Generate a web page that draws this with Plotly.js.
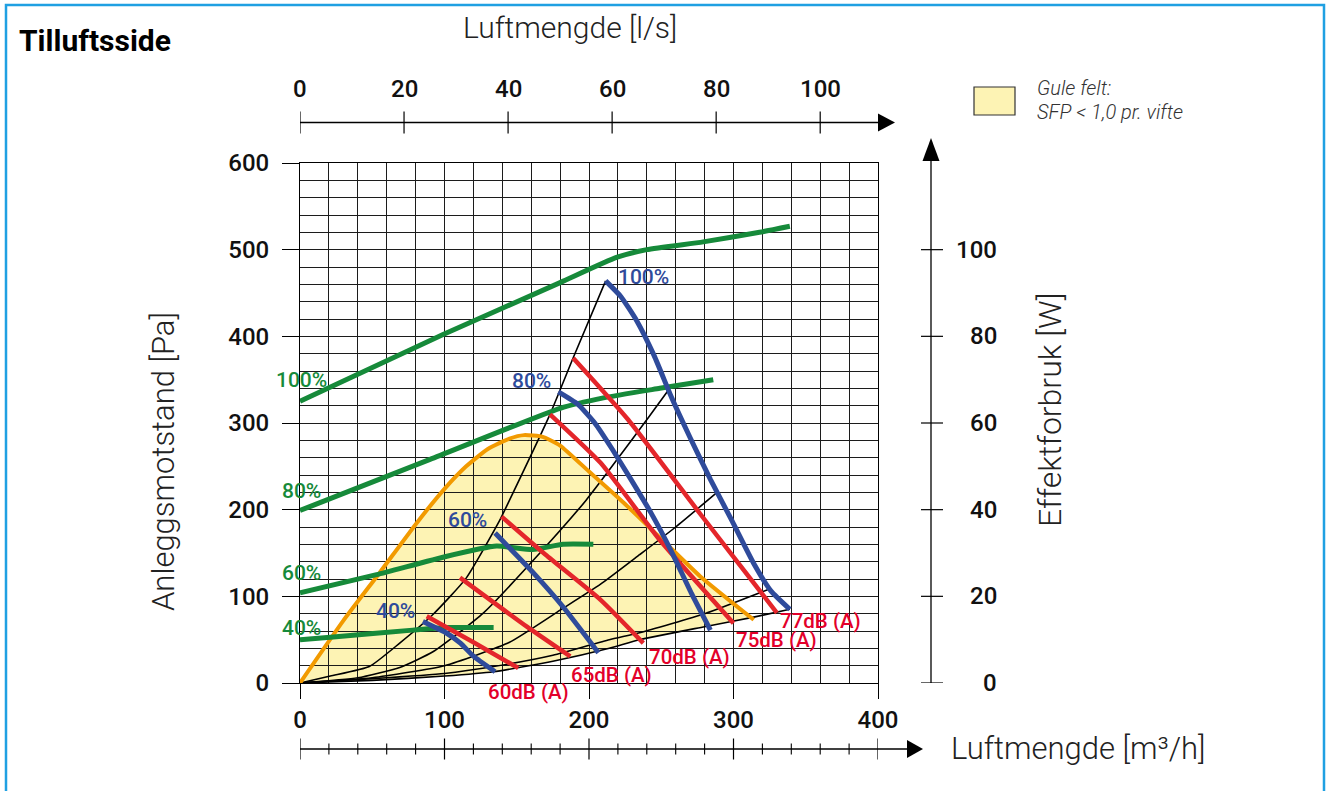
<!DOCTYPE html>
<html><head><meta charset="utf-8">
<script src="https://cdn.plot.ly/plotly-3.0.1.min.js"></script>
<style>html,body{margin:0;padding:0;background:#fff;}#chart{width:1330px;height:791px;}</style>
</head><body><div id="chart"></div>
<script>
// ---------- data (x: Luftmengde m3/h, y: Anleggsmotstand Pa) ----------
const xTicks = [0, 100, 200, 300, 400];
const yTicks = [0, 100, 200, 300, 400, 500, 600];
const bottomMinorTicks = [20, 40, 60, 80, 120, 140, 160, 180, 220, 240, 260, 280, 320, 340, 360, 380];
const topTicksLs = [0, 20, 40, 60, 80, 100];          // l/s
const rightTicksW = [0, 20, 40, 60, 80, 100];         // W

// power consumption curves (green), read in Pa-scale
const g100X = [0, 99, 180, 219, 240, 279, 318, 339];
const g100Y = [325, 402, 462, 491, 500, 509, 520, 527];
const g80X = [0, 90, 180, 210, 249, 286];
const g80Y = [199, 258, 317, 329, 340, 350];
const g60X = [0, 53, 101, 136, 161, 182, 203];
const g60Y = [104, 125, 146, 158, 154, 160, 160];
const g40X = [0, 23, 78, 101, 134];
const g40Y = [50, 53, 61, 64, 64];

// fan curves (blue)
const b100X = [211.5, 222, 233, 245, 257, 270, 284, 299, 314, 326, 339];
const b100Y = [464, 446, 418, 378, 330, 283, 235, 187, 138, 106, 85];
const b80X = [178.8, 192, 204, 216, 229, 243, 257, 271, 284];
const b80Y = [336, 322, 300, 270, 235, 196, 152, 103, 61];
const b60X = [135, 161.5, 182, 206.5];
const b60Y = [173, 127, 88, 35];
const b40X = [85, 101, 111, 120, 135];
const b40Y = [71, 58, 46, 31, 13];

// sound level lines (red)
const r77X = [189, 227, 277, 330];
const r77Y = [375, 304, 195, 81];
const r75X = [173, 208, 249, 300];
const r75Y = [310, 254, 165, 69];
const r70X = [139.5, 170, 208, 237.6];
const r70Y = [192, 148, 96, 46];
const r65X = [110.7, 157, 187];
const r65Y = [121.6, 65, 30.7];
const r60X = [87.7, 120, 151];
const r60Y = [77, 47, 17.3];

// system curves (black)
const k1X = [0, 21, 48, 69, 92, 115, 138, 145, 173, 189, 211.5];
const k1Y = [0, 8, 19, 46, 79, 121, 187, 211, 310, 375, 464];
const k2X = [0, 40, 69, 92, 127, 166, 198, 241, 255];
const k2Y = [0, 6, 18, 36, 81, 150, 211, 306, 338];
const k3X = [0, 50, 100, 145, 180, 208, 235, 260, 288];
const k3Y = [0, 6, 20, 47, 84, 114, 148, 180, 219];
const k4X = [0, 50, 100, 134, 175, 214, 235, 280, 324];
const k4Y = [0, 5, 11, 19, 32, 50, 58, 80, 108];
const k5X = [0, 50, 100, 134, 175, 214, 235, 280, 314, 339];
const k5Y = [0, 3, 8, 13, 25, 40, 50, 65, 76, 85];

// SFP < 1,0 boundary (orange)
const sfpX = [0, 30, 55, 80, 100, 115, 130, 145, 155, 168, 180, 200, 224, 249, 277, 314];
const sfpY = [0, 72, 127, 183, 224, 250, 270, 282, 286, 284, 274, 244, 208, 168, 123, 73];

// labels
const greenLabels = ['100%', '80%', '60%', '40%'];
const greenLabelY = [350, 221, 127, 64];
const blueLabels = ['100%', '80%', '60%', '40%'];
const blueLabelX = [237.5, 160, 116, 66];
const blueLabelY = [468, 349, 188, 83];
const redLabels = ['77dB (A)', '75dB (A)', '70dB (A)', '65dB (A)', '60dB (A)'];
const redLabelX = [330.5, 300, 240, 186, 128.5];
const redLabelY = [71, 50, 30.5, 9.5, -10];

// ---------- styling / layout ----------
const GREEN = '#168a3a', BLUE = '#2f4b9b', RED = '#e4262b', ORANGE = '#f29a00', FILL = '#fdf3b4';
const RED_TXT = '#e3002a';
const FONT = 'Roboto, "Open Sans", sans-serif';
const L = 300, R = 878, T = 163, B = 683;
const X = px => (px - L) / (R - L);
const Y = py => (B - py) / (B - T);
const YMAX = 600;

function line(x, y, color, width, smooth) {
  return {x: x, y: y, type: 'scatter', mode: 'lines', hoverinfo: 'skip', showlegend: false,
    line: {color: color, width: width, shape: smooth ? 'spline' : 'linear', smoothing: 0.5}};
}
const traces = [
  line(k1X, k1Y, '#000', 1.6, true),
  line(k2X, k2Y, '#000', 1.6, true),
  line(k3X, k3Y, '#000', 1.6, true),
  line(k4X, k4Y, '#000', 1.6, true),
  line(k5X, k5Y, '#000', 1.6, true),
  line(sfpX, sfpY, ORANGE, 4, true),
  line(g100X, g100Y, GREEN, 5, true),
  line(g80X, g80Y, GREEN, 5, true),
  line(g60X, g60Y, GREEN, 5, true),
  line(g40X, g40Y, GREEN, 5, true),
  line(r77X, r77Y, RED, 4.5, true),
  line(r75X, r75Y, RED, 4.5, true),
  line(r70X, r70Y, RED, 4.5, true),
  line(r65X, r65Y, RED, 4.5, true),
  line(r60X, r60Y, RED, 4.5, true),
  line(b100X, b100Y, BLUE, 5, true),
  line(b80X, b80Y, BLUE, 5, true),
  line(b60X, b60Y, BLUE, 5, true),
  line(b40X, b40Y, BLUE, 5, true)
];

// yellow SFP area (below grid): orange boundary + lowest system curve back to origin
let fillPath = 'M ' + sfpX.map((v, i) => v + ',' + sfpY[i]).join(' L ');
for (let i = k5X.length - 1; i >= 0; i--) {
  if (k5X[i] <= sfpX[sfpX.length - 1]) fillPath += ' L ' + k5X[i] + ',' + k5Y[i];
}
fillPath += ' Z';

const shapes = [
  {type: 'path', xref: 'x', yref: 'y', path: fillPath, fillcolor: FILL, line: {width: 0}, layer: 'below'},
  // blue frame
  {type: 'rect', xref: 'paper', yref: 'paper', x0: X(6), x1: X(1324), y0: Y(830), y1: Y(5),
   line: {color: '#1fa0e2', width: 2.5}, fillcolor: 'rgba(0,0,0,0)', layer: 'above'},
  // legend swatch
  {type: 'rect', xref: 'paper', yref: 'paper', x0: X(974), x1: X(1015), y0: Y(115), y1: Y(87),
   line: {color: '#333', width: 1.2}, fillcolor: FILL},
  // top axis (l/s)
  {type: 'line', xref: 'paper', yref: 'paper', x0: 0, x1: 1, y0: Y(122.5), y1: Y(122.5), line: {color: '#000', width: 1.3}},
  {type: 'path', xref: 'paper', yref: 'paper', path: `M ${X(878)},${Y(113.5)} L ${X(895)},${Y(122.5)} L ${X(878)},${Y(131.5)} Z`, fillcolor: '#000', line: {width: 0}},
  // bottom axis (m3/h)
  {type: 'line', xref: 'paper', yref: 'paper', x0: 0, x1: X(908), y0: Y(749), y1: Y(749), line: {color: '#000', width: 1.3}},
  {type: 'path', xref: 'paper', yref: 'paper', path: `M ${X(907)},${Y(740)} L ${X(923)},${Y(749)} L ${X(907)},${Y(758)} Z`, fillcolor: '#000', line: {width: 0}},
  // right axis (W)
  {type: 'line', xref: 'paper', yref: 'paper', x0: X(931), x1: X(931), y0: Y(683), y1: Y(160), line: {color: '#000', width: 1.3}},
  {type: 'path', xref: 'paper', yref: 'paper', path: `M ${X(922.5)},${Y(161)} L ${X(931)},${Y(138)} L ${X(939.5)},${Y(161)} Z`, fillcolor: '#000', line: {width: 0}}
];
topTicksLs.forEach(v => shapes.push({type: 'line', xref: 'x', yref: 'paper', x0: v * 3.6, x1: v * 3.6,
  y0: Y(111.5), y1: Y(133.5), line: {color: '#000', width: 1.2}}));
xTicks.forEach(v => shapes.push({type: 'line', xref: 'x', yref: 'paper', x0: v, x1: v,
  y0: Y(738.5), y1: Y(759.5), line: {color: '#000', width: 1.2}}));
bottomMinorTicks.forEach(v => shapes.push({type: 'line', xref: 'x', yref: 'paper', x0: v, x1: v,
  y0: Y(743.5), y1: Y(754.5), line: {color: '#000', width: 1.1}}));
rightTicksW.forEach(v => shapes.push({type: 'line', xref: 'paper', yref: 'y', x0: X(921), x1: X(943),
  y0: v * 5, y1: v * 5, line: {color: '#000', width: 1.2}}));

const tickFont = {family: FONT, size: 24, color: '#111', weight: 500};
const titleFont = {family: FONT, size: 31, color: '#222', weight: 300};
const annotations = [];
topTicksLs.forEach(v => annotations.push({xref: 'x', yref: 'paper', x: v * 3.6, y: Y(89), text: String(v),
  showarrow: false, xanchor: 'center', yanchor: 'middle', font: tickFont}));
rightTicksW.forEach(v => annotations.push({xref: 'paper', yref: 'y', x: X(999), y: v * 5, text: String(v),
  showarrow: false, xanchor: 'right', yanchor: 'middle', font: tickFont}));
annotations.push({xref: 'paper', yref: 'paper', x: X(570), y: Y(27), text: 'Luftmengde [l/s]', showarrow: false,
  xanchor: 'center', yanchor: 'middle', font: Object.assign({}, titleFont, {size: 30})});
annotations.push({xref: 'paper', yref: 'paper', x: X(949), y: Y(748), text: 'Luftmengde [m³/h]', showarrow: false,
  xanchor: 'left', yanchor: 'middle', font: titleFont});
annotations.push({xref: 'paper', yref: 'paper', x: X(163), y: Y(462), text: 'Anleggsmotstand [Pa]', showarrow: false,
  textangle: -90, xanchor: 'center', yanchor: 'middle', font: titleFont});
annotations.push({xref: 'paper', yref: 'paper', x: X(1050), y: Y(410), text: 'Effektforbruk [W]', showarrow: false,
  textangle: -90, xanchor: 'center', yanchor: 'middle', font: Object.assign({}, titleFont, {size: 32})});
annotations.push({xref: 'paper', yref: 'paper', x: X(1035), y: Y(88), text: '<i>Gule felt:</i>', showarrow: false,
  xanchor: 'left', yanchor: 'middle', font: {family: FONT, size: 20, color: '#333', weight: 300}});
annotations.push({xref: 'paper', yref: 'paper', x: X(1035), y: Y(112), text: '<i>SFP &lt; 1,0 pr. vifte</i>', showarrow: false,
  xanchor: 'left', yanchor: 'middle', font: {family: FONT, size: 20, color: '#333', weight: 300}});
greenLabels.forEach((t, i) => annotations.push({xref: 'x', yref: 'y', x: 1, y: greenLabelY[i], text: t, showarrow: false,
  xanchor: 'center', yanchor: 'middle', font: {family: FONT, size: 21, color: GREEN, weight: 500}}));
blueLabels.forEach((t, i) => annotations.push({xref: 'x', yref: 'y', x: blueLabelX[i], y: blueLabelY[i], text: t, showarrow: false,
  xanchor: 'center', yanchor: 'middle', font: {family: FONT, size: 21, color: BLUE, weight: 500}}));
redLabels.forEach((t, i) => annotations.push({xref: 'x', yref: 'paper', x: redLabelX[i], y: redLabelY[i] / YMAX, text: t, showarrow: false,
  xanchor: 'left', yanchor: 'middle', font: {family: FONT, size: 20.5, color: RED_TXT, weight: 500}}));

const gridC = '#1c1c1c';
const layout = {
  width: 1330, height: 791,
  margin: {l: L, r: 1330 - R, t: T, b: 791 - B, pad: 0},
  paper_bgcolor: '#fff', plot_bgcolor: 'rgba(0,0,0,0)',
  title: {text: 'Tilluftsside', x: 19 / 1330, xanchor: 'left', xref: 'container', y: 1 - 40 / 791, yanchor: 'middle',
    font: {family: FONT, size: 30, weight: 700, color: '#000'}},
  xaxis: {range: [0, 400], tickvals: xTicks, ticks: 'outside', ticklen: 15, tickcolor: '#000', tickwidth: 1,
    showgrid: true, gridcolor: gridC, gridwidth: 1, zeroline: false, showline: true, mirror: true, linecolor: '#000', linewidth: 1,
    minor: {dtick: 20, showgrid: true, gridcolor: gridC, gridwidth: 1, ticks: ''},
    tickfont: tickFont, fixedrange: true},
  yaxis: {range: [0, YMAX], tickvals: yTicks, ticks: 'outside', ticklen: 17, tickcolor: '#000', tickwidth: 1,
    ticklabelstandoff: 8,
    showgrid: true, gridcolor: gridC, gridwidth: 1, zeroline: false, showline: true, mirror: true, linecolor: '#000', linewidth: 1,
    minor: {dtick: 20, showgrid: true, gridcolor: gridC, gridwidth: 1, ticks: ''},
    tickfont: tickFont, fixedrange: true},
  shapes: shapes,
  annotations: annotations,
  showlegend: false
};
Plotly.newPlot('chart', traces, layout, {staticPlot: true, displayModeBar: false});
</script></body></html>
